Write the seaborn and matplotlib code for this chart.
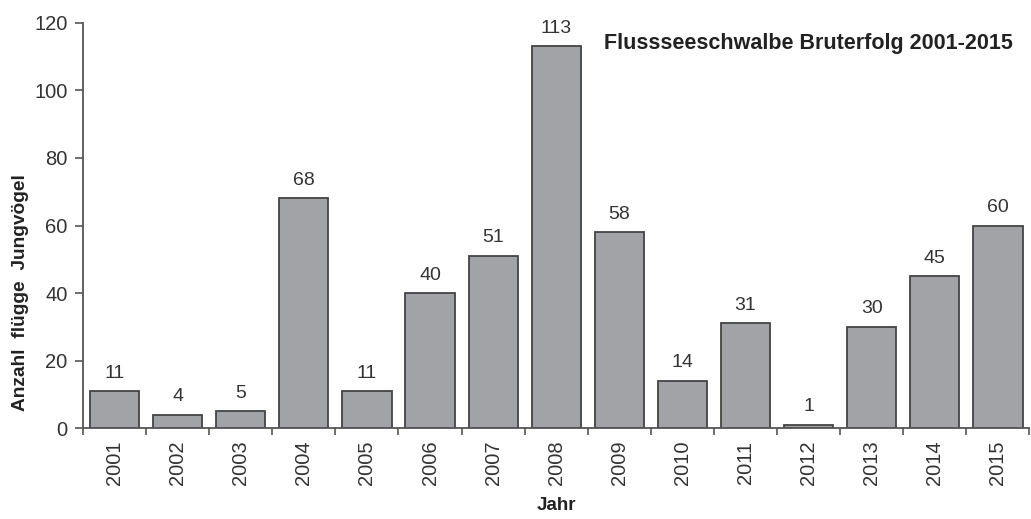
import matplotlib
matplotlib.use("Agg")
import matplotlib.pyplot as plt
import seaborn as sns
import pandas as pd
import numpy as np

years = ["2001", "2002", "2003", "2004", "2005", "2006", "2007", "2008",
         "2009", "2010", "2011", "2012", "2013", "2014", "2015"]
fledglings = [11, 4, 5, 68, 11, 40, 51, 113, 58, 14, 31, 1, 30, 45, 60]
y_ticks = [0, 20, 40, 60, 80, 100, 120]

sns.set_theme(style="ticks")
plt.rcParams["font.family"] = ["Liberation Sans", "DejaVu Sans"]

df = pd.DataFrame({"Jahr": years, "Anzahl": fledglings})

fig = plt.figure(figsize=(10.31, 5.19), dpi=100)
ax = fig.add_axes([0.0805, 0.175, 0.918, 0.781])

sns.barplot(data=df, x="Jahr", y="Anzahl", color="#a2a3a7", saturation=1,
            edgecolor="#444444", linewidth=1.3, width=0.78, ax=ax)

for i, v in enumerate(fledglings):
    ax.text(i, v + 2.8, str(v), ha="center", va="bottom", fontsize=14,
            color="#333333")

ax.set_ylim(0, 120)
ax.set_xlim(-0.5, len(years) - 0.5)
ax.set_yticks(y_ticks)
ax.set_yticklabels([str(t) for t in y_ticks], fontsize=14.5, color="#333333")
ax.tick_params(axis="y", direction="out", length=6, width=1.2, color="#555555", pad=5)

ax.set_xticks(range(len(years)))
ax.set_xticklabels(years, rotation=90, fontsize=14.5, color="#333333")
ax.tick_params(axis="x", which="major", length=0, pad=9)
ax.set_xticks(np.arange(-0.5, len(years), 1.0), minor=True)
ax.tick_params(axis="x", which="minor", direction="out", length=5, width=1.2,
               color="#555555")

for side in ("top", "right"):
    ax.spines[side].set_visible(False)
for side in ("left", "bottom"):
    ax.spines[side].set_color("#555555")
    ax.spines[side].set_linewidth(1.3)

ax.set_xlabel("Jahr", fontsize=13.5, fontweight="bold", color="#222222")
ax.xaxis.set_label_coords(0.5, -0.17)
ax.set_ylabel("Anzahl  flügge  Jungvögel", fontsize=13.8, fontweight="bold",
              color="#222222")
ax.yaxis.set_label_coords(-0.057, 0.335)

ax.text(0.982, 0.95, "Flussseeschwalbe Bruterfolg 2001-2015",
        transform=ax.transAxes, ha="right", va="center", fontsize=15.5,
        fontweight="bold", color="#222222")

fig.savefig("out.png", dpi=100)
